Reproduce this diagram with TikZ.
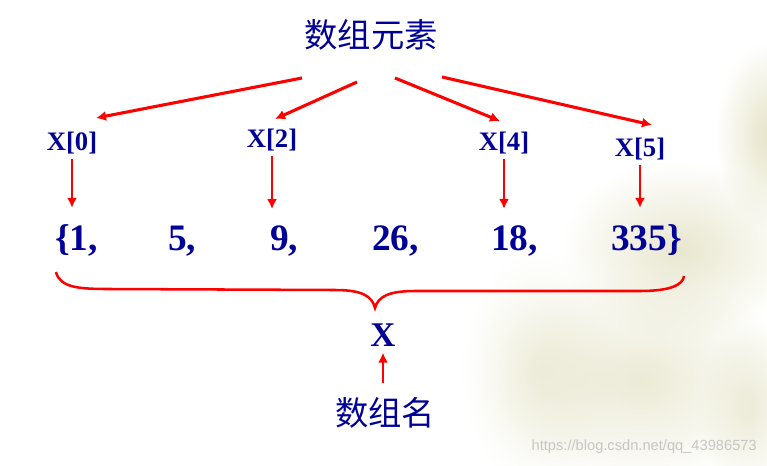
\documentclass[tikz,border=0pt]{standalone}
\usepackage{fontspec}
\setmainfont{Liberation Serif}
\newfontfamily\cjk{Noto Sans CJK SC}
\newfontfamily\wmfont{Liberation Sans}
\usetikzlibrary{arrows.meta,fadings}

\definecolor{navy}{RGB}{0,0,150}
\definecolor{arrowred}{RGB}{255,0,0}
\definecolor{slidebeige}{RGB}{222,220,186}

\tikzfading[name=softblob, inner color=transparent!0, outer color=transparent!100]

\tikzset{
  elem/.style={text=navy, font=\fontsize{28}{28}\selectfont\bfseries, inner sep=0pt, anchor=base west},
  idx/.style={text=navy, font=\fontsize{20}{20}\selectfont\bfseries, inner sep=0pt},
  cjktext/.style={text=navy, font=\cjk\fontsize{25}{25}\selectfont, inner sep=0pt},
  redarrow/.style={draw=arrowred, line width=2pt, -{Latex[length=7.5pt,width=7.5pt]}},
  blob/.style={fill=slidebeige, path fading=softblob},
}

\begin{document}
\begin{tikzpicture}[x=0.75pt,y=-0.75pt]
\useasboundingbox (0,0) rectangle (767,465);

%Background blotches
\fill[blob, opacity=0.8] (770,135) ellipse [x radius=55, y radius=95];
\fill[blob, opacity=0.7] (680,250) ellipse [x radius=120, y radius=90];
\fill[blob, opacity=0.6] (640,380) ellipse [x radius=150, y radius=110];
\fill[blob, opacity=0.45] (540,370) ellipse [x radius=80, y radius=120];
\fill[blob, opacity=0.5] (750,410) ellipse [x radius=50, y radius=90];

% Text Node
\node[cjktext] (title) at (371,35) {数组元素};
% Text Node
\node[idx] (x0) at (72,143) {X[0]};
\node[idx] (x2) at (272,140) {X[2]};
\node[idx] (x4) at (504,143.5) {X[4]};
\node[idx] (x5) at (640,149) {X[5]};

% Text Node
\node[elem] (e0) at (55,250) {\{1,};
\node[elem] (e1) at (168,250) {5,};
\node[elem] (e2) at (270,250) {9,};
\node[elem] (e3) at (372,250) {26,};
\node[elem] (e4) at (491,250) {18,};
\node[elem] (e5) at (611,250) {335\}};

% Text Node
\node[text=navy, font=\fontsize{26}{26}\selectfont\bfseries, inner sep=0pt] (xname) at (383,335) {X};
\node[cjktext] (arrname) at (385,413) {数组名};

%Straight Lines
\coordinate (s0) at ([shift={(-69,43)}]title.center);
\coordinate (s1) at ([shift={(-14,47)}]title.center);
\coordinate (s2) at ([shift={(24,43)}]title.center);
\coordinate (s3) at ([shift={(71,42)}]title.center);
\coordinate (t0) at ([shift={(24,-25)}]x0.center);
\coordinate (t2) at ([shift={(3,-21)}]x2.center);
\coordinate (t4) at ([shift={(-4,-22.5)}]x4.center);
\coordinate (t5) at ([shift={(12,-24)}]x5.center);
\draw[redarrow, line width=2.3pt] (s0) -- (t0);
\draw[redarrow, line width=2.3pt] (s1) -- (t2);
\draw[redarrow, line width=2.3pt] (s2) -- (t4);
\draw[redarrow, line width=2.3pt] (s3) -- (t5);

%Straight Lines
\foreach \k in {0,2,4,5}
  \draw[redarrow, shorten <=3.5pt, shorten >=12pt] (x\k.south) -- (x\k.south |- e\k.north);

%Curve Lines
\draw[arrowred, line width=1.9pt] (56,272) .. controls (60,288) and (80,289) .. (110,289)
  -- (335,290) .. controls (362,290) and (372,296) .. (375,308)
  .. controls (378,296) and (390,291) .. (415,291)
  -- (640,291) .. controls (670,291) and (683,285) .. (684,276);

%Straight Lines
\draw[redarrow, shorten <=11pt, shorten >=4.5pt] (arrname.north -| xname.south) -- (xname.south);

% Text Node
\node[text=gray!45, font=\wmfont\fontsize{11}{11}\selectfont, anchor=east, inner sep=0pt] (mark) at (757,447) {https://blog.csdn.net/qq\_43986573};

\end{tikzpicture}
\end{document}
